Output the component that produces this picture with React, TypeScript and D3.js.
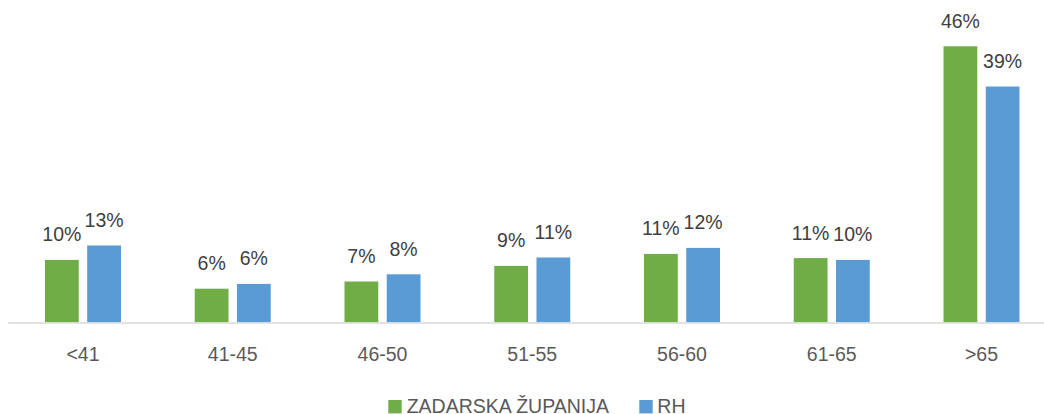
import React from "react";
import * as d3 from "d3";

const categories = ["<41", "41-45", "46-50", "51-55", "56-60", "61-65", ">65"];
const seriesNames = ["ZADARSKA ŽUPANIJA", "RH"];
const zadarska = [10.4, 5.6, 6.8, 9.4, 11.4, 10.7, 46.0];
const rh = [12.8, 6.4, 8.0, 10.8, 12.4, 10.4, 39.3];
const colors = ["#70ad47", "#5b9bd5"];

const W = 1044;
const H = 414;
const FONT = "'Liberation Sans', Arial, sans-serif";

export default function App() {
  const baseline = 322.3;
  const x0 = d3.scaleBand<string>().domain(categories).range([8.1, 1056.4]).paddingInner(0).paddingOuter(0);
  const x1 = d3.scaleBand<string>().domain(seriesNames).range([-38, 38]).paddingInner(0.2);
  const y = d3.scaleLinear().domain([0, 50]).range([baseline, baseline - 300]);
  const data = [zadarska, rh];

  return (
    <svg width={W} height={H} style={{ position: "absolute", left: 0, top: 0 }} fontFamily={FONT}>
      <rect x={0} y={0} width={W} height={H} fill="#ffffff" />
      {categories.map((c, i) => {
        const cx = (x0(c) as number) + x0.bandwidth() / 2;
        return (
          <g key={c}>
            {seriesNames.map((s, si) => {
              const v = data[si][i];
              const bx = cx + (x1(s) as number);
              const bw = x1.bandwidth();
              return (
                <g key={s}>
                  <rect x={bx} y={y(v)} width={bw} height={baseline - y(v)} fill={colors[si]} />
                  <text
                    x={bx + bw / 2}
                    y={y(v) - 18.5}
                    textAnchor="middle"
                    fontSize={19.5}
                    fill="#404040"
                  >
                    {Math.round(v)}%
                  </text>
                </g>
              );
            })}
            <text x={cx} y={361} textAnchor="middle" fontSize={19.5} fill="#595959">
              {c}
            </text>
          </g>
        );
      })}
      <line x1={8.1} x2={W} y1={323} y2={323} stroke="#d9d9d9" strokeWidth={1.5} />
      <g>
        <rect x={388.3} y={400} width={13.4} height={13.4} fill={colors[0]} />
        <text x={406.7} y={413} fontSize={19.5} fill="#595959">{seriesNames[0]}</text>
        <rect x={639.3} y={400} width={13.4} height={13.4} fill={colors[1]} />
        <text x={657.3} y={413} fontSize={19.5} fill="#595959">{seriesNames[1]}</text>
      </g>
    </svg>
  );
}
